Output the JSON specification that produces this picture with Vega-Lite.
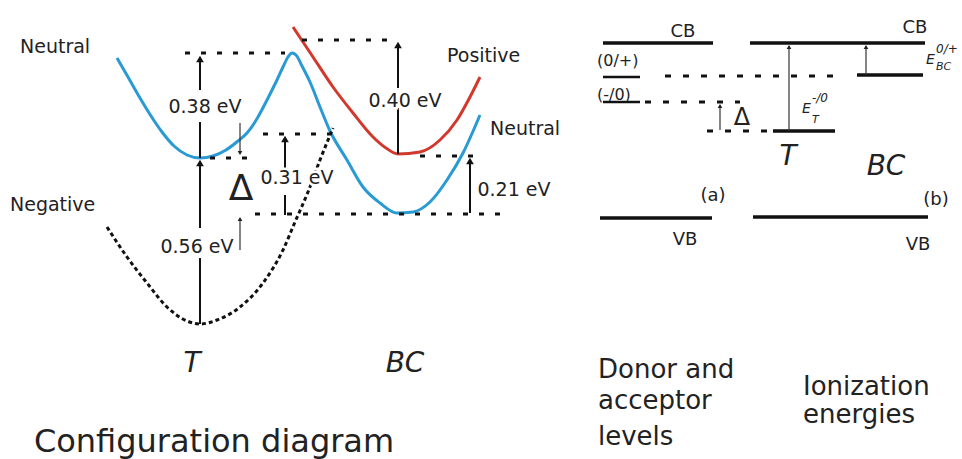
{
  "$schema": "https://vega.github.io/schema/vega-lite/v6.json",
  "width": 962,
  "height": 459,
  "autosize": {"type": "fit", "contains": "padding"},
  "padding": 0,
  "background": "white",
  "config": {"view": {"stroke": null}, "text": {"font": "DejaVu Sans", "color": "#222"}},
  "datasets": {
    "blue": [
      {"x":117,"y":58},{"x":128,"y":77},{"x":140,"y":98},{"x":151,"y":116},{"x":162,"y":132},{"x":174,"y":146},{"x":187,"y":155},{"x":200,"y":158},{"x":213,"y":156},{"x":226,"y":150},{"x":238,"y":141},{"x":247,"y":133},{"x":258,"y":117},{"x":267,"y":100},{"x":276,"y":82},{"x":283,"y":67},{"x":288,"y":57},{"x":292,"y":53},{"x":296,"y":55},{"x":302,"y":66},{"x":310,"y":82},{"x":320,"y":107},{"x":330,"y":131},{"x":347,"y":160},{"x":363,"y":187},{"x":380,"y":203},{"x":397,"y":213},{"x":413,"y":212},{"x":430,"y":202},{"x":447,"y":180},{"x":463,"y":153},{"x":480,"y":115}
    ],
    "red": [
      {"x":293,"y":27},{"x":313,"y":57},{"x":333,"y":87},{"x":353,"y":113},{"x":373,"y":137},{"x":386,"y":148},{"x":398,"y":154},{"x":420,"y":152},{"x":440,"y":140},{"x":457,"y":120},{"x":470,"y":97},{"x":480,"y":77}
    ],
    "negative": [
      {"x":107,"y":227},{"x":127,"y":257},{"x":147,"y":283},{"x":167,"y":307},{"x":187,"y":321},{"x":200,"y":324},{"x":217,"y":320},{"x":240,"y":307},{"x":263,"y":283},{"x":283,"y":250},{"x":295,"y":222},{"x":308,"y":192},{"x":320,"y":160},{"x":333,"y":128}
    ],
    "hlines": [
      {"kind":"dashL","x":185,"x2":285,"y":53},
      {"kind":"dashL","x":302,"x2":392,"y":40},
      {"kind":"dashL","x":210,"x2":252,"y":158},
      {"kind":"dashL","x":263,"x2":330,"y":134},
      {"kind":"dashL","x":420,"x2":482,"y":156},
      {"kind":"dashL","x":255,"x2":502,"y":214},
      {"kind":"dashR","x":665,"x2":838,"y":76},
      {"kind":"dashR","x":645,"x2":740,"y":102},
      {"kind":"dashR","x":707,"x2":770,"y":131},
      {"kind":"level","x":603,"x2":713,"y":43},
      {"kind":"level","x":750,"x2":925,"y":43},
      {"kind":"level","x":857,"x2":923,"y":75},
      {"kind":"level","x":773,"x2":835,"y":131},
      {"kind":"level","x":600,"x2":712,"y":218},
      {"kind":"level","x":753,"x2":928,"y":217},
      {"kind":"under","x":603,"x2":640,"y":77},
      {"kind":"under","x":603,"x2":640,"y":102}
    ],
    "vlines": [
      {"kind":"thick","x":200,"y":58,"y2":90},
      {"kind":"thick","x":200,"y":122,"y2":158},
      {"kind":"thick","x":200,"y":162,"y2":228},
      {"kind":"thick","x":200,"y":258,"y2":324},
      {"kind":"thick","x":285,"y":138,"y2":168},
      {"kind":"thick","x":285,"y":195,"y2":215},
      {"kind":"thick","x":398,"y":44,"y2":88},
      {"kind":"thick","x":398,"y":108,"y2":154},
      {"kind":"thick","x":470,"y":160,"y2":213},
      {"kind":"thin","x":240,"y":123,"y2":154},
      {"kind":"thin","x":240,"y":218,"y2":250},
      {"kind":"thin","x":789,"y":46,"y2":131},
      {"kind":"thin","x":866,"y":46,"y2":75},
      {"kind":"thin","x":720,"y":105,"y2":130}
    ],
    "heads": [
      {"kind":"bigUp","x":200,"y":59},
      {"kind":"bigUp","x":200,"y":163},
      {"kind":"bigUp","x":285,"y":139},
      {"kind":"bigUp","x":398,"y":45},
      {"kind":"bigUp","x":470,"y":161},
      {"kind":"smallUp","x":240,"y":219},
      {"kind":"smallUp","x":789,"y":47},
      {"kind":"smallUp","x":866,"y":47},
      {"kind":"smallUp","x":720,"y":106},
      {"kind":"smallDown","x":240,"y":153}
    ],
    "texts": [
      {"kind":"label","x":20,"y":53,"text":"Neutral"},
      {"kind":"label","x":10,"y":211,"text":"Negative"},
      {"kind":"label","x":447,"y":62,"text":"Positive"},
      {"kind":"label","x":490,"y":135,"text":"Neutral"},
      {"kind":"value","x":205,"y":113,"text":"0.38 eV"},
      {"kind":"value","x":197,"y":253,"text":"0.56 eV"},
      {"kind":"value","x":297,"y":184,"text":"0.31 eV"},
      {"kind":"value","x":405,"y":107,"text":"0.40 eV"},
      {"kind":"value","x":514,"y":196,"text":"0.21 eV"},
      {"kind":"italic","x":192,"y":372,"text":"T"},
      {"kind":"italic","x":405,"y":372,"text":"BC"},
      {"kind":"italic","x":788,"y":165,"text":"T"},
      {"kind":"italic","x":886,"y":175,"text":"BC"},
      {"kind":"title","x":214,"y":452,"text":"Configuration diagram"},
      {"kind":"caption","x":598,"y":378,"text":"Donor and"},
      {"kind":"caption","x":598,"y":409,"text":"acceptor"},
      {"kind":"caption","x":598,"y":445,"text":"levels"},
      {"kind":"caption","x":803,"y":395,"text":"Ionization"},
      {"kind":"caption","x":803,"y":423,"text":"energies"},
      {"kind":"small","x":683,"y":37,"text":"CB"},
      {"kind":"small","x":915,"y":33,"text":"CB"},
      {"kind":"small","x":685,"y":245,"text":"VB"},
      {"kind":"small","x":918,"y":250,"text":"VB"},
      {"kind":"small","x":713,"y":201,"text":"(a)"},
      {"kind":"small","x":936,"y":205,"text":"(b)"},
      {"kind":"level","x":597,"y":66,"text":"(0/+)"},
      {"kind":"level","x":597,"y":100,"text":"(-/0)"},
      {"kind":"deltaL","x":241,"y":200,"text":"Δ"},
      {"kind":"deltaR","x":742,"y":125,"text":"Δ"},
      {"kind":"E","x":802,"y":113,"text":"E"},
      {"kind":"E","x":926,"y":64,"text":"E"},
      {"kind":"sup","x":812,"y":102,"text":"-/0"},
      {"kind":"sup","x":936,"y":53,"text":"0/+"},
      {"kind":"sub","x":812,"y":123,"text":"T"},
      {"kind":"sub","x":936,"y":70,"text":"BC"}
    ]
  },
  "encoding": {
    "x": {"field": "x", "type": "quantitative", "scale": {"domain": [0, 962], "nice": false, "zero": false}, "axis": null},
    "y": {"field": "y", "type": "quantitative", "scale": {"domain": [459, 0], "nice": false, "zero": false}, "axis": null}
  },
  "layer": [
    {"data": {"name": "blue"}, "mark": {"type": "line", "color": "#2a9ad4", "strokeWidth": 3, "interpolate": "monotone"}},
    {"data": {"name": "red"}, "mark": {"type": "line", "color": "#d2382c", "strokeWidth": 3, "interpolate": "monotone"}},
    {"data": {"name": "negative"}, "mark": {"type": "line", "color": "#111", "strokeWidth": 3, "strokeDash": [4, 3], "interpolate": "monotone"}},
    {"data": {"name": "hlines"}, "transform": [{"filter": "datum.kind == 'dashL'"}], "mark": {"type": "rule", "color": "#111", "strokeWidth": 3, "strokeDash": [5, 11]}, "encoding": {"x2": {"field": "x2"}}},
    {"data": {"name": "hlines"}, "transform": [{"filter": "datum.kind == 'dashR'"}], "mark": {"type": "rule", "color": "#111", "strokeWidth": 3, "strokeDash": [6, 12]}, "encoding": {"x2": {"field": "x2"}}},
    {"data": {"name": "hlines"}, "transform": [{"filter": "datum.kind == 'level'"}], "mark": {"type": "rule", "color": "#111", "strokeWidth": 3.5}, "encoding": {"x2": {"field": "x2"}}},
    {"data": {"name": "hlines"}, "transform": [{"filter": "datum.kind == 'under'"}], "mark": {"type": "rule", "color": "#111", "strokeWidth": 2.5}, "encoding": {"x2": {"field": "x2"}}},
    {"data": {"name": "vlines"}, "transform": [{"filter": "datum.kind == 'thick'"}], "mark": {"type": "rule", "color": "#111", "strokeWidth": 2}, "encoding": {"y2": {"field": "y2"}}},
    {"data": {"name": "vlines"}, "transform": [{"filter": "datum.kind == 'thin'"}], "mark": {"type": "rule", "color": "#333", "strokeWidth": 1.2}, "encoding": {"y2": {"field": "y2"}}},
    {"data": {"name": "heads"}, "transform": [{"filter": "datum.kind == 'bigUp'"}], "mark": {"type": "point", "shape": "triangle-up", "filled": true, "color": "#111", "size": 60, "opacity": 1}},
    {"data": {"name": "heads"}, "transform": [{"filter": "datum.kind == 'smallUp'"}], "mark": {"type": "point", "shape": "triangle-up", "filled": true, "color": "#222", "size": 22, "opacity": 1}},
    {"data": {"name": "heads"}, "transform": [{"filter": "datum.kind == 'smallDown'"}], "mark": {"type": "point", "shape": "triangle-down", "filled": true, "color": "#222", "size": 22, "opacity": 1}},
    {"data": {"name": "texts"}, "transform": [{"filter": "datum.kind == 'label'"}], "mark": {"type": "text", "fontSize": 19, "align": "left", "baseline": "alphabetic"}, "encoding": {"text": {"field": "text"}}},
    {"data": {"name": "texts"}, "transform": [{"filter": "datum.kind == 'value'"}], "mark": {"type": "text", "fontSize": 19, "align": "center", "baseline": "alphabetic", "stroke": "white", "strokeWidth": 5, "color": "white"}, "encoding": {"text": {"field": "text"}}},
    {"data": {"name": "texts"}, "transform": [{"filter": "datum.kind == 'value'"}], "mark": {"type": "text", "fontSize": 19, "align": "center", "baseline": "alphabetic"}, "encoding": {"text": {"field": "text"}}},
    {"data": {"name": "texts"}, "transform": [{"filter": "datum.kind == 'italic'"}], "mark": {"type": "text", "fontSize": 28, "fontStyle": "italic", "align": "center", "baseline": "alphabetic"}, "encoding": {"text": {"field": "text"}}},
    {"data": {"name": "texts"}, "transform": [{"filter": "datum.kind == 'title'"}], "mark": {"type": "text", "fontSize": 32, "align": "center", "baseline": "alphabetic"}, "encoding": {"text": {"field": "text"}}},
    {"data": {"name": "texts"}, "transform": [{"filter": "datum.kind == 'caption'"}], "mark": {"type": "text", "fontSize": 26, "align": "left", "baseline": "alphabetic"}, "encoding": {"text": {"field": "text"}}},
    {"data": {"name": "texts"}, "transform": [{"filter": "datum.kind == 'small'"}], "mark": {"type": "text", "fontSize": 18, "align": "center", "baseline": "alphabetic"}, "encoding": {"text": {"field": "text"}}},
    {"data": {"name": "texts"}, "transform": [{"filter": "datum.kind == 'level'"}], "mark": {"type": "text", "fontSize": 16, "align": "left", "baseline": "alphabetic"}, "encoding": {"text": {"field": "text"}}},
    {"data": {"name": "texts"}, "transform": [{"filter": "datum.kind == 'deltaL'"}], "mark": {"type": "text", "fontSize": 36, "align": "center", "baseline": "alphabetic"}, "encoding": {"text": {"field": "text"}}},
    {"data": {"name": "texts"}, "transform": [{"filter": "datum.kind == 'deltaR'"}], "mark": {"type": "text", "fontSize": 24, "align": "center", "baseline": "alphabetic"}, "encoding": {"text": {"field": "text"}}},
    {"data": {"name": "texts"}, "transform": [{"filter": "datum.kind == 'E'"}], "mark": {"type": "text", "fontSize": 14, "fontStyle": "italic", "align": "left", "baseline": "alphabetic"}, "encoding": {"text": {"field": "text"}}},
    {"data": {"name": "texts"}, "transform": [{"filter": "datum.kind == 'sup'"}], "mark": {"type": "text", "fontSize": 12, "fontStyle": "italic", "align": "left", "baseline": "alphabetic"}, "encoding": {"text": {"field": "text"}}},
    {"data": {"name": "texts"}, "transform": [{"filter": "datum.kind == 'sub'"}], "mark": {"type": "text", "fontSize": 11, "fontStyle": "italic", "align": "left", "baseline": "alphabetic"}, "encoding": {"text": {"field": "text"}}}
  ]
}
